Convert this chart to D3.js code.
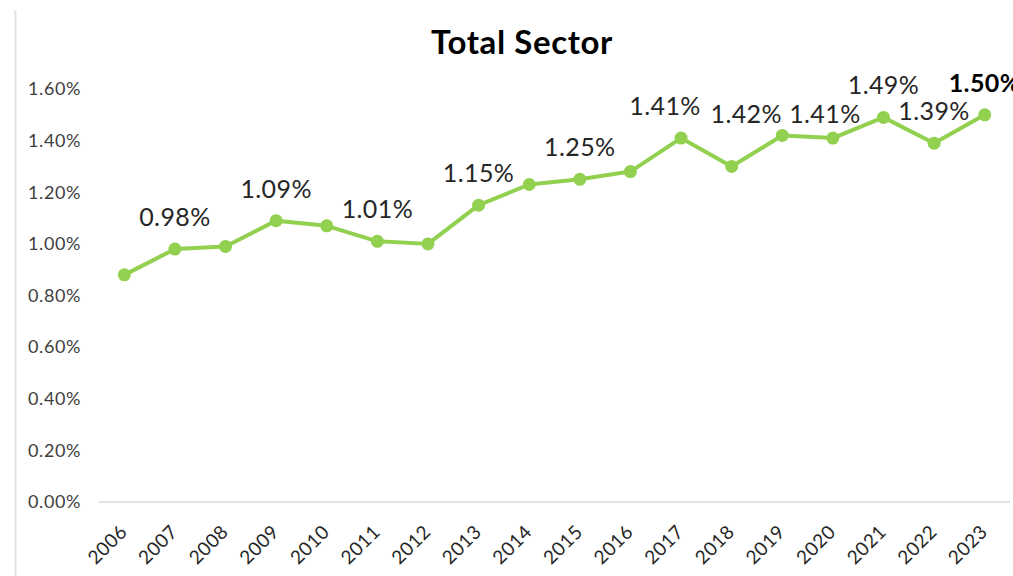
<!DOCTYPE html>
<html>
<head>
<meta charset="utf-8">
<script src="https://cdn.jsdelivr.net/npm/d3@7"></script>
<style>
  body { margin: 0; background: #fff; }
  svg { display: block; font-family: Lato, "DejaVu Sans", sans-serif; }
</style>
</head>
<body>
<script>
// data
var years = ["2006", "2007", "2008", "2009", "2010", "2011", "2012", "2013", "2014",
  "2015", "2016", "2017", "2018", "2019", "2020", "2021", "2022", "2023"];
var share = [0.88, 0.98, 0.99, 1.09, 1.07, 1.01, 1.00, 1.15, 1.23,
  1.25, 1.28, 1.41, 1.30, 1.42, 1.41, 1.49, 1.39, 1.50];
// which years get a data label
var labelledYears = ["2007", "2009", "2011", "2013", "2015", "2017", "2019", "2020", "2021", "2022", "2023"];
var yTicks = [0, 0.2, 0.4, 0.6, 0.8, 1.0, 1.2, 1.4, 1.6];

var width = 1013, height = 576;

var svg = d3.select("body").append("svg")
  .attr("width", width)
  .attr("height", height);

// thin border on the left
svg.append("line")
  .attr("x1", 15.5).attr("x2", 15.5)
  .attr("y1", 10).attr("y2", height)
  .attr("stroke", "#e2e2e2")
  .attr("stroke-width", 2);

var x = d3.scaleBand().domain(years).range([99, 1010]);
var y = d3.scaleLinear().domain([0, 1.6]).range([502, 89]);

// title
svg.append("text")
  .attr("x", 522).attr("y", 54)
  .attr("text-anchor", "middle")
  .attr("font-size", 33)
  .attr("font-weight", "bold")
  .attr("letter-spacing", 0.6)
  .attr("fill", "#000")
  .text("Total Sector");

// y axis labels
var yAxis = d3.axisLeft(y)
  .tickValues(yTicks)
  .tickSize(0)
  .tickPadding(0)
  .tickFormat(function(d) { return d3.format(".2f")(d) + "%"; });

var gy = svg.append("g")
  .attr("transform", "translate(81,0)")
  .call(yAxis);
gy.select(".domain").remove();
gy.selectAll("text")
  .attr("font-size", 18)
  .attr("letter-spacing", 0.6)
  .attr("font-family", "Lato, sans-serif")
  .attr("fill", "#404040");

// baseline
svg.append("line")
  .attr("x1", x.range()[0]).attr("x2", x.range()[1])
  .attr("y1", y(0)).attr("y2", y(0))
  .attr("stroke", "#d9d9d9")
  .attr("stroke-width", 1.5);

// x axis labels
var xAxis = d3.axisBottom(x).tickSize(0).tickPadding(0);
var gx = svg.append("g")
  .attr("transform", "translate(0," + y(0) + ")")
  .call(xAxis);
gx.select(".domain").remove();
gx.selectAll("text")
  .attr("font-size", 19)
  .attr("letter-spacing", 0.5)
  .attr("font-family", "Lato, sans-serif")
  .attr("fill", "#262626")
  .attr("text-anchor", "end")
  .attr("dy", null)
  .attr("transform", "translate(4,31) rotate(-45)");

var points = years.map(function(yr, i) {
  return { year: yr, value: share[i] };
});

// line
var line = d3.line()
  .x(function(d) { return x(d.year) + x.bandwidth() / 2; })
  .y(function(d) { return y(d.value); });

svg.append("path")
  .datum(points)
  .attr("fill", "none")
  .attr("stroke", "#92d050")
  .attr("stroke-width", 4)
  .attr("stroke-linejoin", "round")
  .attr("d", line);

svg.selectAll(".dot")
  .data(points)
  .enter()
  .append("circle")
  .attr("class", "dot")
  .attr("cx", function(d) { return x(d.year) + x.bandwidth() / 2; })
  .attr("cy", function(d) { return y(d.value); })
  .attr("r", 6.5)
  .attr("fill", "#92d050");

// label nudges (layout only), default is centred above the point
var nudge = {
  "2017": [-16, 0],
  "2019": [-36, 11],
  "2020": [-8, 8]
};

svg.selectAll(".lbl")
  .data(points.filter(function(d) { return labelledYears.indexOf(d.year) >= 0; }))
  .enter()
  .append("text")
  .attr("class", "lbl")
  .attr("x", function(d) {
    var n = nudge[d.year] || [0, 0];
    return x(d.year) + x.bandwidth() / 2 + n[0];
  })
  .attr("y", function(d) {
    var n = nudge[d.year] || [0, 0];
    return y(d.value) - 23 + n[1];
  })
  .attr("text-anchor", "middle")
  .attr("font-size", 25)
  .attr("letter-spacing", 0.4)
  .attr("font-weight", function(d) { return d.year === "2023" ? "bold" : "normal"; })
  .attr("fill", function(d) { return d.year === "2023" ? "#000" : "#262626"; })
  .text(function(d) { return d3.format(".2f")(d.value) + "%"; });
</script>
</body>
</html>
